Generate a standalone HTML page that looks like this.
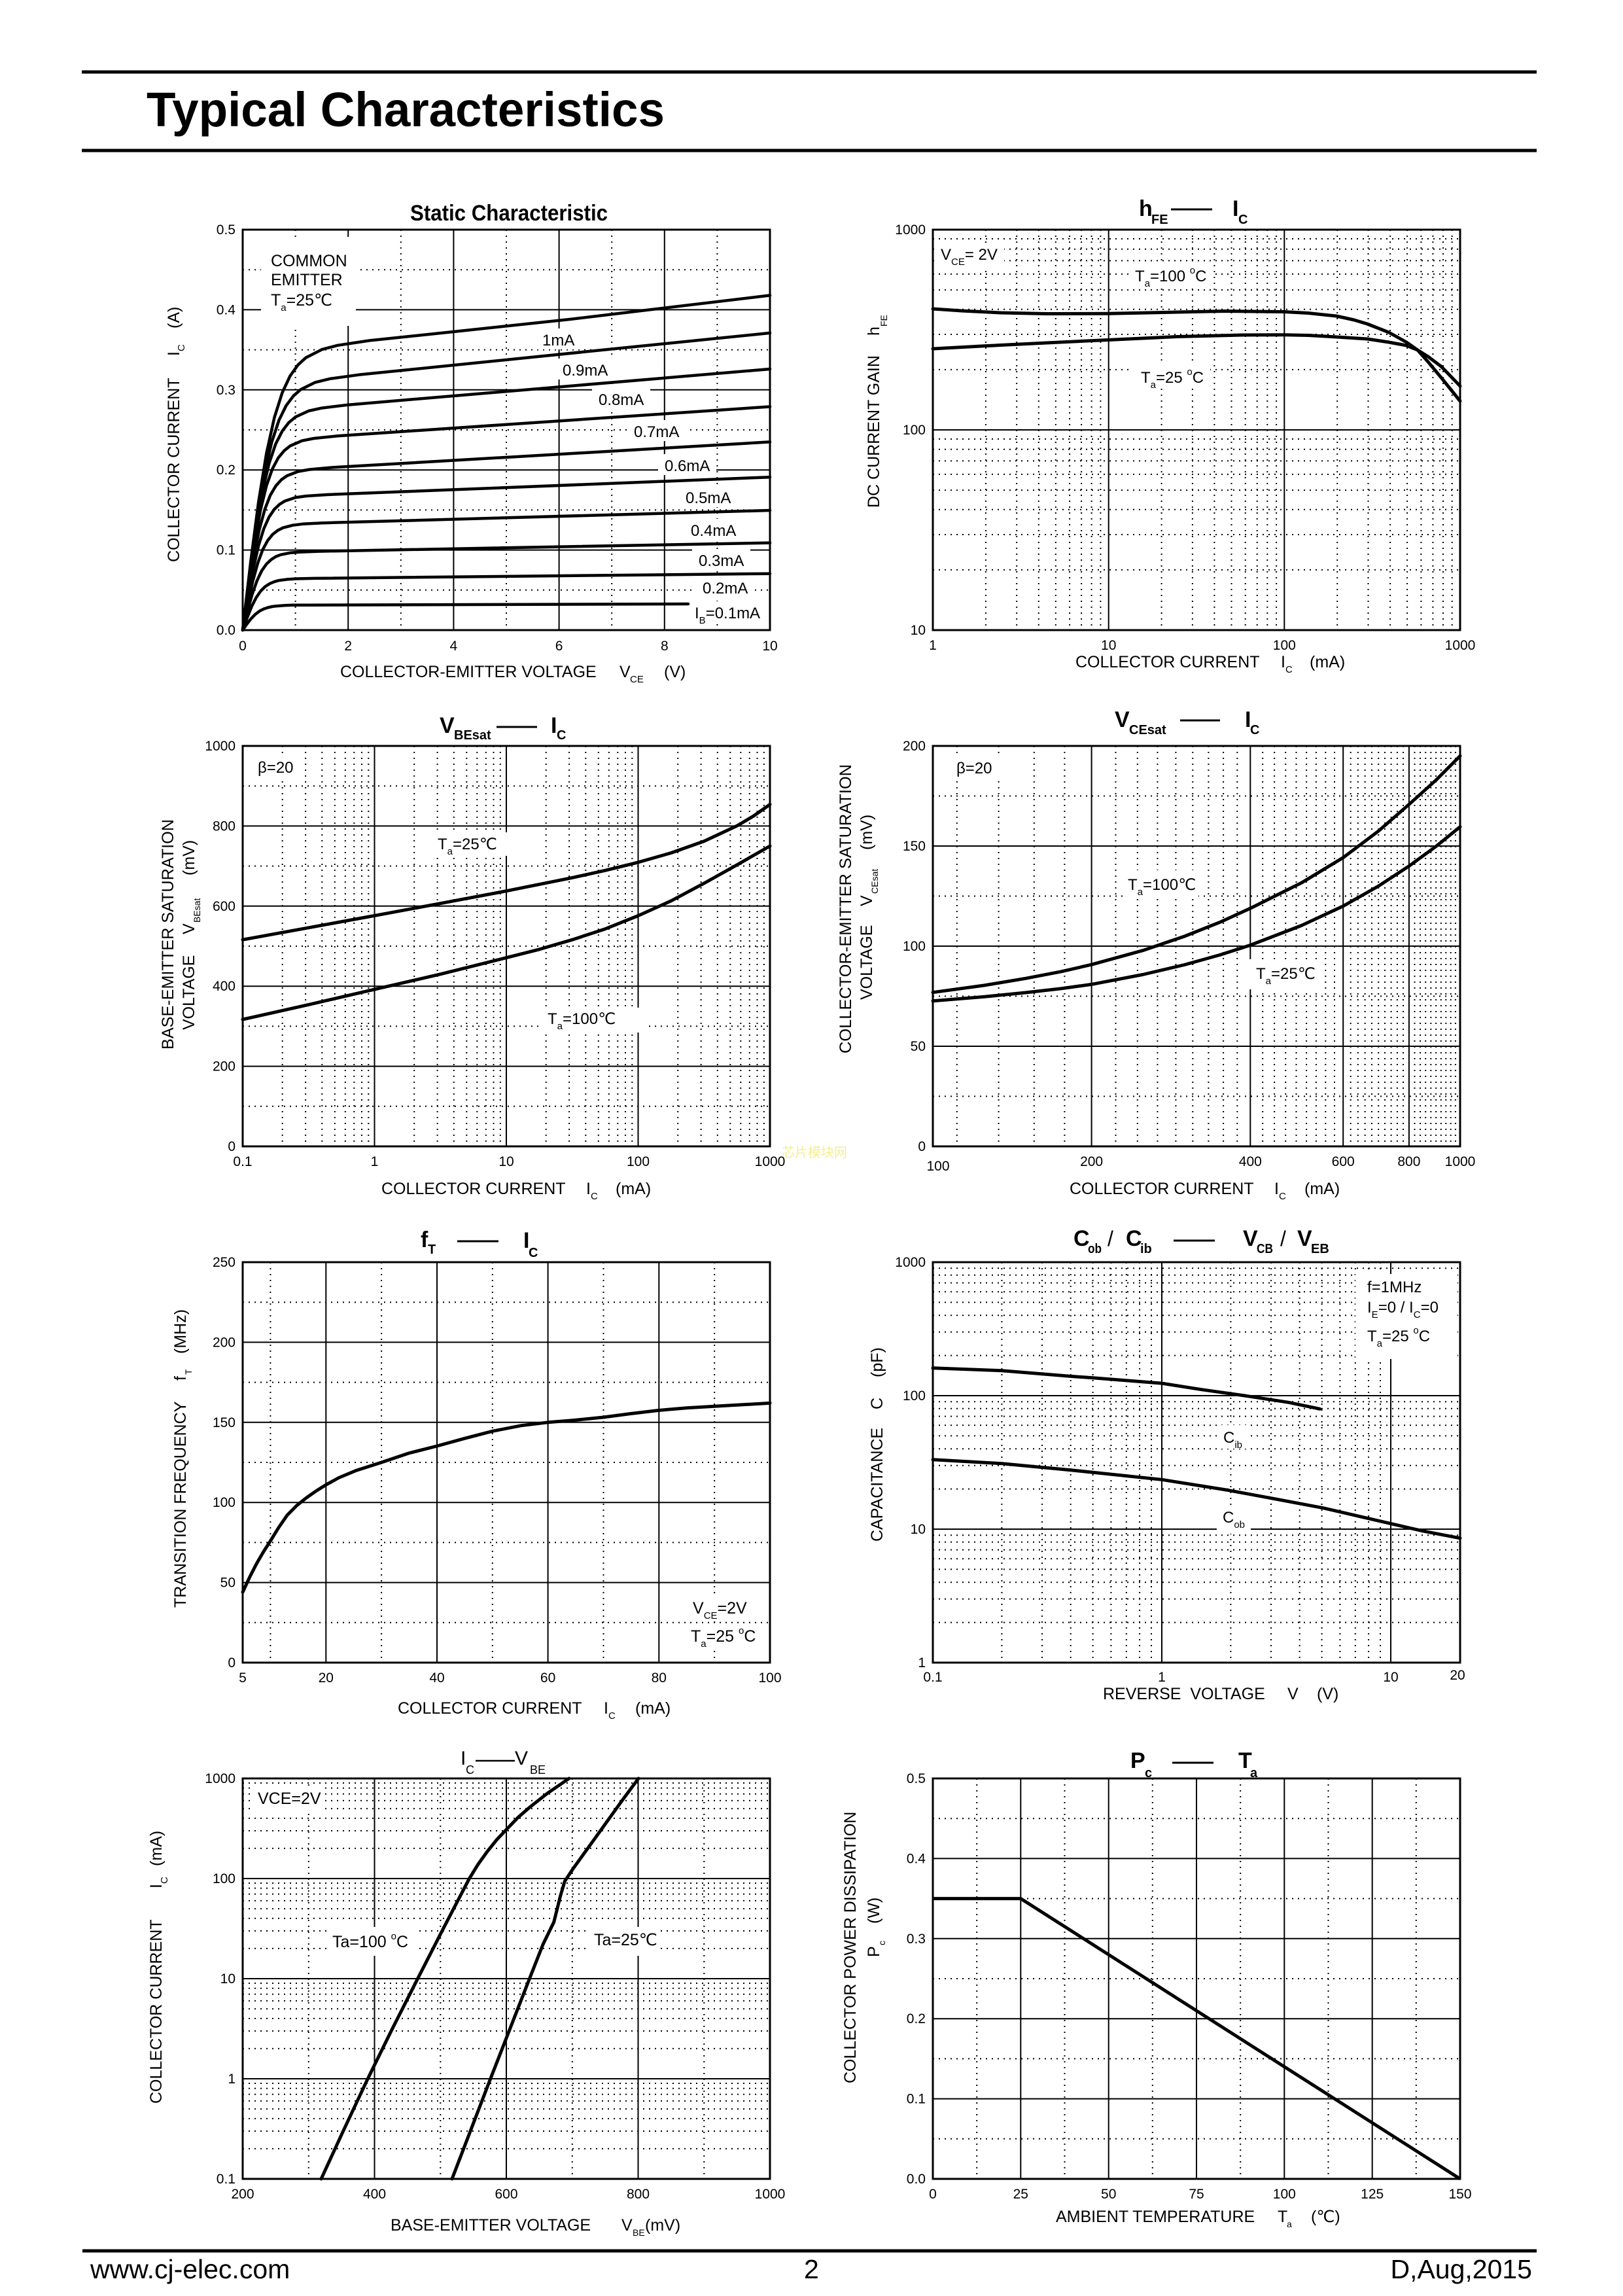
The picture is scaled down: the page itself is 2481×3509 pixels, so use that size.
<!DOCTYPE html>
<html><head><meta charset="utf-8"><style>
html,body{margin:0;padding:0;background:#fff}
svg{display:block;font-family:"Liberation Sans","DejaVu Sans","Noto Sans CJK SC",sans-serif}
.s{stroke:#000;stroke-width:2;fill:none}
.d{stroke:#000;stroke-width:2;fill:none;stroke-dasharray:2 7}
.b{stroke:#000;stroke-width:3;fill:none}
.c{stroke:#000;stroke-width:5;fill:none;stroke-linejoin:round;stroke-linecap:round}
.k{font-size:21px}
.a{font-size:25px}
.l{font-size:24px}
.bt{font-size:34px;font-weight:bold}
.bs{font-size:20px;font-weight:bold}
</style></head><body>
<svg width="2481" height="3509" viewBox="0 0 2481 3509" xmlns="http://www.w3.org/2000/svg">
<rect width="2481" height="3509" fill="#fff"/>
<!-- header -->
<line x1="125" y1="110" x2="2349" y2="110" stroke="#000" stroke-width="5"/>
<line x1="125" y1="230" x2="2349" y2="230" stroke="#000" stroke-width="5"/>
<text x="224" y="193" font-size="74" font-weight="bold" textLength="792" lengthAdjust="spacingAndGlyphs">Typical Characteristics</text>
<!-- footer -->
<line x1="126" y1="3440" x2="2349" y2="3440" stroke="#000" stroke-width="5"/>
<text x="138" y="3482" font-size="41">www.cj-elec.com</text>
<text x="1229" y="3482" font-size="41">2</text>
<text x="2342" y="3482" font-size="41" text-anchor="end">D,Aug,2015</text>
<text x="1195" y="1768" font-size="20" fill="#f3ef90">芯片模块网</text>

<!-- ================= CHART 1 Static ================= -->
<path class="d" d="M451.6 351V963M612.8 351V963M774 351V963M935.2 351V963M1096.4 351V963M371 412.2H1177M371 534.6H1177M371 657H1177M371 779.4H1177M371 901.8H1177"/>
<path class="s" d="M532.2 351V963M693.4 351V963M854.6 351V963M1015.8 351V963M371 473.4H1177M371 595.8H1177M371 718.2H1177M371 840.6H1177"/>
<g fill="#fff">
<rect x="399" y="362" width="145" height="136"/>
<rect x="819" y="502" width="69" height="32"/>
<rect x="850" y="548" width="89" height="32"/>
<rect x="905" y="593" width="89" height="32"/>
<rect x="959" y="642" width="89" height="32"/>
<rect x="1006" y="694" width="89" height="32"/>
<rect x="1038" y="743" width="89" height="32"/>
<rect x="1046" y="793" width="89" height="32"/>
<rect x="1058" y="839" width="89" height="32"/>
<rect x="1064" y="881" width="89" height="32"/>
<rect x="1052" y="919" width="122" height="32"/>
</g>
<g class="c" style="stroke-width:4.5">
<polyline points="371,963 383.1,859.6 395.2,767.2 407.3,693 419.4,638.2 431.5,600 443.5,574.5 455.6,557.6 467.7,546.6 491.9,534.2 516.1,527.8 564.4,520.5 693,507 871,488 1177,451.4"/>
<polyline points="371,963 382.1,871.6 393.2,789.8 404.2,724.3 415.3,675.9 426.4,642.3 437.5,619.8 448.6,605 459.7,595.3 481.8,584.4 504,578.9 548.3,572.8 1177,508.9"/>
<polyline points="371,963 381.1,881.7 391.2,809.3 401.2,751.1 411.3,708.3 421.4,678.5 431.5,658.8 441.5,645.8 451.6,637.3 471.8,628 491.9,623.6 532.2,618.7 1177,564"/>
<polyline points="371,963 380.1,892.5 389.1,829.7 398.2,779.5 407.3,742.4 416.3,716.8 425.4,699.7 434.5,688.7 443.5,681.5 461.7,673.6 479.8,670 516.1,666.3 1177,621.5"/>
<polyline points="371,963 379.5,903.9 387.9,851.3 396.4,809.1 404.9,778.2 413.3,756.6 421.8,742.4 430.2,733.1 438.7,727.1 455.6,720.6 472.6,717.6 506.4,714.5 1177,675.4"/>
<polyline points="371,963 379.1,913.4 387.1,869.4 395.2,834 403.2,808.2 411.3,790.2 419.4,778.3 427.4,770.7 435.5,765.7 451.6,760.4 467.7,758.1 500,756 1177,729.2"/>
<polyline points="371,963 378.7,923.6 386.3,888.7 394,860.7 401.6,840.1 409.3,825.9 416.9,816.6 424.6,810.6 432.3,806.7 447.6,802.7 462.9,800.8 493.5,799.2 1177,780"/>
<polyline points="371,963 378.3,934 385.5,908.2 392.8,887.6 400,872.4 407.3,862 414.5,855.2 421.8,850.6 429,847.8 443.5,844.9 458,843.7 487.1,842.6 1177,829.6"/>
<polyline points="371,963 377.9,943.9 384.7,926.9 391.6,913.3 398.4,903.4 405.3,896.5 412.1,892.1 419,889.2 425.8,887.2 439.5,885.4 453.2,884.5 480.6,883.9 1177,876.7"/>
<polyline points="371,963 377.4,953.7 383.9,945.4 390.3,938.8 396.8,933.9 403.2,930.6 409.7,928.5 416.1,927 422.6,926.2 435.5,925.2 448.4,924.8 474.2,924.7 1052,923"/>
</g>
<rect class="b" x="371" y="351" width="806" height="612"/>
<text x="627" y="337" class="bt" textLength="302" lengthAdjust="spacingAndGlyphs">Static Characteristic</text>
<g class="a">
<text x="414" y="407">COMMON</text>
<text x="414" y="436">EMITTER</text>
<text x="414" y="467">T<tspan font-size="15" dy="8">a</tspan><tspan dy="-8">=25℃</tspan></text>
</g>
<g class="l">
<text x="829" y="528">1mA</text>
<text x="860" y="574">0.9mA</text>
<text x="915" y="619">0.8mA</text>
<text x="969" y="668">0.7mA</text>
<text x="1016" y="720">0.6mA</text>
<text x="1048" y="769">0.5mA</text>
<text x="1056" y="819">0.4mA</text>
<text x="1068" y="865">0.3mA</text>
<text x="1074" y="907">0.2mA</text>
<text x="1062" y="945">I<tspan font-size="15" dy="8">B</tspan><tspan dy="-8">=0.1mA</tspan></text>
</g>
<g class="k" text-anchor="end">
<text x="360" y="970">0.0</text><text x="360" y="847.6">0.1</text><text x="360" y="725.2">0.2</text><text x="360" y="602.8">0.3</text><text x="360" y="480.4">0.4</text><text x="360" y="358">0.5</text>
</g>
<g class="k" text-anchor="middle">
<text x="371" y="994">0</text><text x="532.2" y="994">2</text><text x="693.4" y="994">4</text><text x="854.6" y="994">6</text><text x="1015.8" y="994">8</text><text x="1177" y="994">10</text>
</g>
<g class="a">
<text x="520" y="1035">COLLECTOR-EMITTER VOLTAGE</text>
<text x="947" y="1035">V</text><text x="963" y="1043" font-size="15">CE</text>
<text x="1015" y="1035">(V)</text>
<text transform="translate(274,859) rotate(-90)">COLLECTOR CURRENT</text>
<text transform="translate(274,544) rotate(-90)">I</text>
<text transform="translate(282,537) rotate(-90)" font-size="15">C</text>
<text transform="translate(274,502) rotate(-90)">(A)</text>
</g>

<!-- ================= CHART 2 hFE ================= -->
<path class="d" d="M1506.9 351V963M1554.2 351V963M1587.8 351V963M1613.8 351V963M1635.1 351V963M1653.1 351V963M1668.6 351V963M1682.4 351V963M1775.6 351V963M1822.9 351V963M1856.4 351V963M1882.5 351V963M1903.7 351V963M1921.7 351V963M1937.3 351V963M1951.1 351V963M2044.2 351V963M2091.5 351V963M2125.1 351V963M2151.1 351V963M2172.4 351V963M2190.4 351V963M2206 351V963M2219.7 351V963M1426 870.9H2232M1426 817H2232M1426 778.8H2232M1426 749.1H2232M1426 724.9H2232M1426 704.4H2232M1426 686.7H2232M1426 671H2232M1426 564.9H2232M1426 511H2232M1426 472.8H2232M1426 443.1H2232M1426 418.9H2232M1426 398.4H2232M1426 380.7H2232M1426 365H2232"/>
<path class="s" d="M1694.7 351V963M1963.3 351V963M1426 657H2232"/>
<g fill="#fff">
<rect x="1432" y="372" width="103" height="38"/>
<rect x="1728" y="404" width="124" height="36"/>
<rect x="1731" y="556" width="119" height="38"/>
</g>
<g class="c">
<polyline points="1426,472 1470,475 1530,478 1600,479.5 1694,479.3 1800,477 1873,475.5 1963,476.5 2000,478.5 2043,483 2070,489 2090,495 2123,508 2150,523 2167,535 2183,553 2203,577 2232,613"/>
<polyline points="1426,533 1500,529 1600,524 1694,519.5 1800,514.5 1900,512 1963,511.8 2000,512.5 2043,515 2090,518 2123,523 2150,528 2167,535 2183,545 2203,560 2232,590"/>
</g>
<rect class="b" x="1426" y="351" width="806" height="612"/>
<text x="1741" y="330" class="bt">h</text><text x="1760" y="342" class="bs">FE</text>
<line x1="1790" y1="320" x2="1853" y2="320" stroke="#000" stroke-width="3"/>
<text x="1884" y="330" class="bt">I</text><text x="1893" y="342" class="bs">C</text>
<g class="l">
<text x="1438" y="397">V<tspan font-size="15" dy="8">CE</tspan><tspan dy="-8">= 2V</tspan></text>
<text x="1735" y="430">T<tspan font-size="15" dy="8">a</tspan><tspan dy="-8">=100 </tspan><tspan font-size="15" dy="-12">o</tspan><tspan dy="12">C</tspan></text>
<text x="1744" y="585">T<tspan font-size="15" dy="8">a</tspan><tspan dy="-8">=25 </tspan><tspan font-size="15" dy="-12">o</tspan><tspan dy="12">C</tspan></text>
</g>
<g class="k" text-anchor="end">
<text x="1415" y="358">1000</text><text x="1415" y="664">100</text><text x="1415" y="970">10</text>
</g>
<g class="k" text-anchor="middle">
<text x="1426" y="993">1</text><text x="1694.7" y="993">10</text><text x="1963.3" y="993">100</text><text x="2232" y="993">1000</text>
</g>
<g class="a">
<text x="1644" y="1020">COLLECTOR CURRENT</text>
<text x="1958" y="1020">I</text><text x="1965" y="1028" font-size="15">C</text>
<text x="2002" y="1020">(mA)</text>
<text transform="translate(1344,776) rotate(-90)">DC CURRENT GAIN</text>
<text transform="translate(1344,513) rotate(-90)">h</text>
<text transform="translate(1356,499) rotate(-90)" font-size="14">FE</text>
</g>

<!-- ================= CHART 3 VBEsat ================= -->
<path class="d" d="M431.7 1140V1752M467.1 1140V1752M492.3 1140V1752M511.8 1140V1752M527.8 1140V1752M541.3 1140V1752M553 1140V1752M563.3 1140V1752M633.2 1140V1752M668.6 1140V1752M693.8 1140V1752M713.3 1140V1752M729.3 1140V1752M742.8 1140V1752M754.5 1140V1752M764.8 1140V1752M834.7 1140V1752M870.1 1140V1752M895.3 1140V1752M914.8 1140V1752M930.8 1140V1752M944.3 1140V1752M956 1140V1752M966.3 1140V1752M1036.2 1140V1752M1071.6 1140V1752M1096.8 1140V1752M1116.3 1140V1752M1132.3 1140V1752M1145.8 1140V1752M1157.5 1140V1752M1167.8 1140V1752M371 1690.8H1177M371 1568.4H1177M371 1446H1177M371 1323.6H1177M371 1201.2H1177"/>
<path class="s" d="M572.5 1140V1752M774 1140V1752M975.5 1140V1752M371 1629.6H1177M371 1507.2H1177M371 1384.8H1177M371 1262.4H1177"/>
<g fill="#fff">
<rect x="388" y="1155" width="75" height="36"/>
<rect x="662" y="1272" width="130" height="36"/>
<rect x="830" y="1540" width="155" height="38"/>
</g>
<g class="c">
<polyline points="371,1436.2 471.8,1417.8 572.5,1399.4 673.3,1380.7 774,1361.7 874.8,1341.4 925.1,1330.3 975.5,1317.9 1025.9,1303.5 1076.3,1285.6 1126.6,1262.1 1151.8,1247.2 1177,1229.4"/>
<polyline points="371,1558 471.8,1535.4 572.5,1512.1 673.3,1488.8 774,1463.7 824.4,1450.9 874.8,1436.2 925.1,1419.7 975.5,1399.5 1025.9,1376.8 1076.3,1349.9 1126.6,1321.8 1177,1293"/>
</g>
<rect class="b" x="371" y="1140" width="806" height="612"/>
<text x="672" y="1120" class="bt">V</text><text x="694" y="1130" class="bs">BEsat</text>
<line x1="759" y1="1111" x2="821" y2="1111" stroke="#000" stroke-width="3"/>
<text x="842" y="1120" class="bt">I</text><text x="851" y="1130" class="bs">C</text>
<g class="l">
<text x="394" y="1181">β=20</text>
<text x="669" y="1298">T<tspan font-size="15" dy="8">a</tspan><tspan dy="-8">=25℃</tspan></text>
<text x="837" y="1565">T<tspan font-size="15" dy="8">a</tspan><tspan dy="-8">=100℃</tspan></text>
</g>
<g class="k" text-anchor="end">
<text x="360" y="1147">1000</text><text x="360" y="1269.4">800</text><text x="360" y="1391.8">600</text><text x="360" y="1514.2">400</text><text x="360" y="1636.6">200</text><text x="360" y="1759">0</text>
</g>
<g class="k" text-anchor="middle">
<text x="371" y="1782">0.1</text><text x="572.5" y="1782">1</text><text x="774" y="1782">10</text><text x="975.5" y="1782">100</text><text x="1177" y="1782">1000</text>
</g>
<g class="a">
<text x="583" y="1825">COLLECTOR CURRENT</text>
<text x="896" y="1825">I</text><text x="903" y="1833" font-size="15">C</text>
<text x="941" y="1825">(mA)</text>
<text transform="translate(265,1604) rotate(-90)" textLength="352" lengthAdjust="spacingAndGlyphs">BASE-EMITTER SATURATION</text>
<text transform="translate(297,1574) rotate(-90)">VOLTAGE</text>
<text transform="translate(297,1428) rotate(-90)">V</text>
<text transform="translate(306,1410) rotate(-90)" font-size="14">BEsat</text>
<text transform="translate(297,1338) rotate(-90)">(mV)</text>
</g>

<!-- ================= CHART 4 VCEsat ================= -->
<path class="d" d="M1462.8 1140V1752M1526.6 1140V1752M1580.8 1140V1752M1627.4 1140V1752M1705.5 1140V1752M1738.8 1140V1752M1769.4 1140V1752M1797.4 1140V1752M1823.3 1140V1752M1847.4 1140V1752M1870.1 1140V1752M1891.3 1140V1752M1930.2 1140V1752M1948.1 1140V1752M1965.2 1140V1752M1981.5 1140V1752M1997.1 1140V1752M2011.9 1140V1752M2026.3 1140V1752M2040 1140V1752M2064.7 1140V1752M2075.8 1140V1752M2086.6 1140V1752M2097 1140V1752M2107.2 1140V1752M2117 1140V1752M2126.6 1140V1752M2135.9 1140V1752M2145 1140V1752M2162.5 1140V1752M2171 1140V1752M2179.2 1140V1752M2187.3 1140V1752M2195.1 1140V1752M2202.8 1140V1752M2210.3 1140V1752M2217.7 1140V1752M2224.9 1140V1752M1426 1675.5H2232M1426 1522.5H2232M1426 1369.5H2232M1426 1216.5H2232"/>
<path class="s" d="M1668.6 1140V1752M1911.3 1140V1752M2053.2 1140V1752M2153.9 1140V1752M1426 1599H2232M1426 1446H2232M1426 1293H2232"/>
<g fill="#fff">
<rect x="1455" y="1156" width="75" height="36"/>
<rect x="1717" y="1330" width="115" height="44"/>
<rect x="1908" y="1466" width="112" height="46"/>
</g>
<g class="c">
<polyline points="1426,1516.7 1504.1,1506 1567.9,1495.3 1621.9,1484.9 1668.6,1474.2 1746.7,1452.7 1810.6,1431 1864.5,1409.6 1911.3,1388.2 1989.4,1349.3 2053.2,1310.7 2107.2,1270.1 2153.9,1229.4 2195.1,1192.3 2232,1155.3"/>
<polyline points="1426,1529.8 1504.1,1523.4 1567.9,1517 1621.9,1510.9 1668.6,1504.4 1746.7,1489.5 1810.6,1474.5 1864.5,1459.5 1911.3,1444.5 1989.4,1414.5 2053.2,1384.8 2107.2,1354.2 2153.9,1323.6 2195.1,1293.6 2232,1263.6"/>
</g>
<rect class="b" x="1426" y="1140" width="806" height="612"/>
<text x="1704" y="1111" class="bt">V</text><text x="1726" y="1122" class="bs">CEsat</text>
<line x1="1804" y1="1101" x2="1865" y2="1101" stroke="#000" stroke-width="3"/>
<text x="1903" y="1111" class="bt">I</text><text x="1911" y="1122" class="bs">C</text>
<g class="l">
<text x="1462" y="1182">β=20</text>
<text x="1724" y="1360">T<tspan font-size="15" dy="8">a</tspan><tspan dy="-8">=100℃</tspan></text>
<text x="1920" y="1496">T<tspan font-size="15" dy="8">a</tspan><tspan dy="-8">=25℃</tspan></text>
</g>
<g class="k" text-anchor="end">
<text x="1415" y="1147">200</text><text x="1415" y="1300">150</text><text x="1415" y="1453">100</text><text x="1415" y="1606">50</text><text x="1415" y="1759">0</text>
</g>
<g class="k" text-anchor="middle">
<text x="1434" y="1789">100</text><text x="1668.6" y="1782">200</text><text x="1911.3" y="1782">400</text><text x="2053.2" y="1782">600</text><text x="2153.9" y="1782">800</text><text x="2232" y="1782">1000</text>
</g>
<g class="a">
<text x="1635" y="1825">COLLECTOR CURRENT</text>
<text x="1948" y="1825">I</text><text x="1955" y="1833" font-size="15">C</text>
<text x="1994" y="1825">(mA)</text>
<text transform="translate(1301,1610) rotate(-90)" textLength="442" lengthAdjust="spacingAndGlyphs">COLLECTOR-EMITTER SATURATION</text>
<text transform="translate(1333,1528) rotate(-90)">VOLTAGE</text>
<text transform="translate(1333,1385) rotate(-90)">V</text>
<text transform="translate(1342,1366) rotate(-90)" font-size="14">CEsat</text>
<text transform="translate(1333,1299) rotate(-90)">(mV)</text>
</g>

<!-- ================= CHART 5 fT ================= -->
<path class="d" d="M413.4 1929V2541M583.1 1929V2541M752.8 1929V2541M922.5 1929V2541M1092.2 1929V2541M371 2479.8H1177M371 2357.4H1177M371 2235H1177M371 2112.6H1177M371 1990.2H1177"/>
<path class="s" d="M498.3 1929V2541M668 1929V2541M837.6 1929V2541M1007.3 1929V2541M371 2418.6H1177M371 2296.2H1177M371 2173.8H1177M371 2051.4H1177"/>
<g fill="#fff">
<rect x="1050" y="2438" width="122" height="36"/>
<rect x="1050" y="2485" width="122" height="36"/>
</g>
<polyline class="c" points="371,2433.3 381.6,2410.5 392.2,2389.7 402.8,2371.5 413.4,2355 426,2334.5 438.9,2315.8 453.5,2301 468.6,2288.9 483.5,2278.5 498.3,2269.3 517.8,2258.5 544.9,2247.2 583.1,2235 624.7,2221 668,2210 710.4,2198.3 752.8,2187.3 796.9,2178.7 837.6,2173.8 876.6,2170.6 922.5,2166 963.2,2160.6 1007.3,2155.4 1049.7,2151.8 1092.2,2149.3 1177,2144.4"/>
<rect class="b" x="371" y="1929" width="806" height="612"/>
<text x="643" y="1906" class="bt">f</text><text x="654" y="1916" class="bs">T</text>
<line x1="699" y1="1897" x2="762" y2="1897" stroke="#000" stroke-width="3"/>
<text x="800" y="1907" class="bt">I</text><text x="808" y="1921" class="bs">C</text>
<g class="a">
<text x="1059" y="2466">V<tspan font-size="15" dy="8">CE</tspan><tspan dy="-8">=2V</tspan></text>
<text x="1056" y="2509">T<tspan font-size="15" dy="8">a</tspan><tspan dy="-8">=25 </tspan><tspan font-size="15" dy="-12">o</tspan><tspan dy="12">C</tspan></text>
</g>
<g class="k" text-anchor="end">
<text x="360" y="1936">250</text><text x="360" y="2058.4">200</text><text x="360" y="2180.8">150</text><text x="360" y="2303.2">100</text><text x="360" y="2425.6">50</text><text x="360" y="2548">0</text>
</g>
<g class="k" text-anchor="middle">
<text x="371" y="2571">5</text><text x="498.3" y="2571">20</text><text x="668" y="2571">40</text><text x="837.6" y="2571">60</text><text x="1007.3" y="2571">80</text><text x="1177" y="2571">100</text>
</g>
<g class="a">
<text x="608" y="2619">COLLECTOR CURRENT</text>
<text x="923" y="2619">I</text><text x="930" y="2627" font-size="15">C</text>
<text x="971" y="2619">(mA)</text>
<text transform="translate(284,2457) rotate(-90)">TRANSITION FREQUENCY</text>
<text transform="translate(284,2110) rotate(-90)">f</text>
<text transform="translate(293,2101) rotate(-90)" font-size="14">T</text>
<text transform="translate(284,2069) rotate(-90)">(MHz)</text>
</g>

<!-- ================= CHART 6 Cob/Cib ================= -->
<path class="d" d="M1531.4 1929V2541M1593 1929V2541M1636.7 1929V2541M1670.6 1929V2541M1698.4 1929V2541M1721.8 1929V2541M1742.1 1929V2541M1760 1929V2541M1881.4 1929V2541M1943 1929V2541M1986.7 1929V2541M2020.6 1929V2541M2048.4 1929V2541M2071.8 1929V2541M2092.1 1929V2541M2110 1929V2541M1426 2479.6H2232M1426 2443.7H2232M1426 2418.2H2232M1426 2398.4H2232M1426 2382.3H2232M1426 2368.6H2232M1426 2356.8H2232M1426 2346.3H2232M1426 2275.6H2232M1426 2239.7H2232M1426 2214.2H2232M1426 2194.4H2232M1426 2178.3H2232M1426 2164.6H2232M1426 2152.8H2232M1426 2142.3H2232M1426 2071.6H2232M1426 2035.7H2232M1426 2010.2H2232M1426 1990.4H2232M1426 1974.3H2232M1426 1960.6H2232M1426 1948.8H2232M1426 1938.3H2232"/>
<path class="s" d="M1776 1929V2541M2126 1929V2541M1426 2337H2232M1426 2133H2232"/>
<g fill="#fff">
<rect x="2072" y="1947" width="156" height="130"/>
<rect x="1862" y="2178" width="45" height="36"/>
<rect x="1860" y="2300" width="52" height="44"/>
</g>
<g class="c">
<polyline points="1426,2090.8 1531.4,2094.8 1638.2,2103.5 1670.6,2105.8 1776,2114.1 1837.6,2123.8 1902.6,2133 1969.8,2143.3 2017.6,2153.3"/>
<polyline points="1426,2230.7 1531.4,2236.8 1636.7,2246.7 1776,2261.3 1876.7,2277.4 1936.3,2288.4 2022.8,2304.7 2126,2328.6 2176,2340.1 2232,2350.8"/>
</g>
<rect class="b" x="1426" y="1929" width="806" height="612"/>
<text x="1641" y="1904" class="bt">C</text><text x="1663" y="1915" class="bs" textLength="21" lengthAdjust="spacingAndGlyphs">ob</text>
<text x="1693" y="1904" font-size="32">/</text>
<text x="1721" y="1904" class="bt">C</text><text x="1743" y="1915" class="bs">ib</text>
<line x1="1794" y1="1896" x2="1857" y2="1896" stroke="#000" stroke-width="3"/>
<text x="1900" y="1904" class="bt">V</text><text x="1921" y="1915" class="bs" textLength="25" lengthAdjust="spacingAndGlyphs">CB</text>
<text x="1957" y="1904" font-size="32">/</text>
<text x="1983" y="1904" class="bt">V</text><text x="2004" y="1915" class="bs">EB</text>
<g class="l">
<text x="2090" y="1975">f=1MHz</text>
<text x="2090" y="2006">I<tspan font-size="15" dy="8">E</tspan><tspan dy="-8">=0 / I</tspan><tspan font-size="15" dy="8">C</tspan><tspan dy="-8">=0</tspan></text>
<text x="2090" y="2050">T<tspan font-size="15" dy="8">a</tspan><tspan dy="-8">=25 </tspan><tspan font-size="15" dy="-12">o</tspan><tspan dy="12">C</tspan></text>
<text x="1870" y="2205">C<tspan font-size="15" dy="8">ib</tspan></text>
<text x="1869" y="2327">C<tspan font-size="15" dy="8">ob</tspan></text>
</g>
<g class="k" text-anchor="end">
<text x="1415" y="1936">1000</text><text x="1415" y="2140">100</text><text x="1415" y="2344">10</text><text x="1415" y="2548">1</text>
</g>
<g class="k" text-anchor="middle">
<text x="1426" y="2570">0.1</text><text x="1776" y="2570">1</text><text x="2126" y="2570">10</text><text x="2228" y="2567">20</text>
</g>
<g class="a">
<text x="1686" y="2597" xml:space="preserve">REVERSE  VOLTAGE</text>
<text x="1968" y="2597">V</text>
<text x="2013" y="2597">(V)</text>
<text transform="translate(1349,2356) rotate(-90)">CAPACITANCE</text>
<text transform="translate(1349,2154) rotate(-90)">C</text>
<text transform="translate(1349,2105) rotate(-90)">(pF)</text>
</g>

<!-- ================= CHART 7 IC-VBE ================= -->
<path class="d" d="M471.8 2718V3330M673.3 2718V3330M874.8 2718V3330M1076.3 2718V3330M371 3283.9H1177M371 3257H1177M371 3237.9H1177M371 3223.1H1177M371 3210.9H1177M371 3200.7H1177M371 3191.8H1177M371 3184H1177M371 3130.9H1177M371 3104H1177M371 3084.9H1177M371 3070.1H1177M371 3057.9H1177M371 3047.7H1177M371 3038.8H1177M371 3031H1177M371 2977.9H1177M371 2951H1177M371 2931.9H1177M371 2917.1H1177M371 2904.9H1177M371 2894.7H1177M371 2885.8H1177M371 2878H1177M371 2824.9H1177M371 2798H1177M371 2778.9H1177M371 2764.1H1177M371 2751.9H1177M371 2741.7H1177M371 2732.8H1177M371 2725H1177"/>
<path class="s" d="M572.5 2718V3330M774 2718V3330M975.5 2718V3330M371 3177H1177M371 3024H1177M371 2871H1177"/>
<g fill="#fff">
<rect x="382" y="2730" width="113" height="36"/>
<rect x="500" y="2945" width="135" height="44"/>
<rect x="900" y="2945" width="110" height="44"/>
</g>
<g class="c">
<polyline points="491,3330 526,3254 561.5,3178.4 599,3102 637.8,3025.4 677.5,2947.7 717.3,2871.2 731,2849 745,2829.5 759.5,2811.5 774.4,2795.8 792,2777.5 810.2,2761.7 836.7,2740.8 869.9,2718"/>
<polyline points="691,3330 749.2,3178.4 808.9,3025.4 830.1,2971.5 846.7,2937.5 856.6,2897.8 863.3,2875.1 876.5,2855.3 903.1,2818.4 929.6,2781.6 952.8,2749.3 976,2718"/>
</g>
<rect class="b" x="371" y="2718" width="806" height="612"/>
<text x="704" y="2697" font-size="30">I</text><text x="712" y="2711" font-size="18">C</text>
<line x1="727" y1="2691" x2="787" y2="2691" stroke="#000" stroke-width="2.5"/>
<text x="787" y="2697" font-size="30">V</text><text x="810" y="2711" font-size="18">BE</text>
<g class="a">
<text x="394" y="2757">VCE=2V</text>
<text x="508" y="2976">Ta=100 <tspan font-size="15" dy="-12">o</tspan><tspan dy="12">C</tspan></text>
<text x="908" y="2973">Ta=25℃</text>
</g>
<g class="k" text-anchor="end">
<text x="360" y="2725">1000</text><text x="360" y="2878">100</text><text x="360" y="3031">10</text><text x="360" y="3184">1</text><text x="360" y="3337">0.1</text>
</g>
<g class="k" text-anchor="middle">
<text x="371" y="3360">200</text><text x="572.5" y="3360">400</text><text x="774" y="3360">600</text><text x="975.5" y="3360">800</text><text x="1177" y="3360">1000</text>
</g>
<g class="a">
<text x="597" y="3409">BASE-EMITTER VOLTAGE</text>
<text x="950" y="3409">V</text><text x="967" y="3417" font-size="14">BE</text>
<text x="986" y="3409">(mV)</text>
<text transform="translate(247,3215) rotate(-90)">COLLECTOR CURRENT</text>
<text transform="translate(247,2886) rotate(-90)">I</text>
<text transform="translate(256,2879) rotate(-90)" font-size="15">C</text>
<text transform="translate(247,2852) rotate(-90)">(mA)</text>
</g>

<!-- ================= CHART 8 Pc-Ta ================= -->
<path class="d" d="M1493.2 2718V3330M1627.5 2718V3330M1761.8 2718V3330M1896.2 2718V3330M2030.5 2718V3330M2164.8 2718V3330M1426 3268.8H2232M1426 3146.4H2232M1426 3024H2232M1426 2901.6H2232M1426 2779.2H2232"/>
<path class="s" d="M1560.3 2718V3330M1694.7 2718V3330M1829 2718V3330M1963.3 2718V3330M2097.7 2718V3330M1426 3207.6H2232M1426 3085.2H2232M1426 2962.8H2232M1426 2840.4H2232"/>
<path class="c" d="M1426 2901.6H1560.3L2232 3330" style="stroke-linecap:butt"/>
<rect class="b" x="1426" y="2718" width="806" height="612"/>
<text x="1728" y="2702" class="bt">P</text><text x="1750" y="2716" class="bs">c</text>
<line x1="1792" y1="2694" x2="1855" y2="2694" stroke="#000" stroke-width="3"/>
<text x="1893" y="2702" class="bt">T</text><text x="1911" y="2716" class="bs">a</text>
<g class="k" text-anchor="end">
<text x="1415" y="2725">0.5</text><text x="1415" y="2847.4">0.4</text><text x="1415" y="2969.8">0.3</text><text x="1415" y="3092.2">0.2</text><text x="1415" y="3214.6">0.1</text><text x="1415" y="3337">0.0</text>
</g>
<g class="k" text-anchor="middle">
<text x="1426" y="3360">0</text><text x="1560.3" y="3360">25</text><text x="1694.7" y="3360">50</text><text x="1829" y="3360">75</text><text x="1963.3" y="3360">100</text><text x="2097.7" y="3360">125</text><text x="2232" y="3360">150</text>
</g>
<g class="a">
<text x="1614" y="3396">AMBIENT TEMPERATURE</text>
<text x="1953" y="3396">T</text><text x="1967" y="3404" font-size="14">a</text>
<text x="2004" y="3396">(℃)</text>
<text transform="translate(1308,3184) rotate(-90)">COLLECTOR POWER DISSIPATION</text>
<text transform="translate(1344,2991) rotate(-90)">P</text>
<text transform="translate(1353,2973) rotate(-90)" font-size="14">c</text>
<text transform="translate(1344,2940) rotate(-90)">(W)</text>
</g>
</svg>
</body></html>
